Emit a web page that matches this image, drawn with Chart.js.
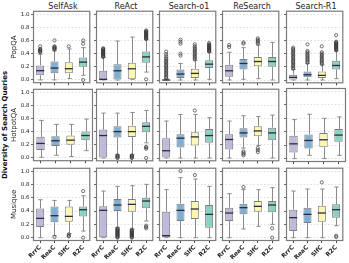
<!DOCTYPE html>
<html>
<head>
<meta charset="utf-8">
<script src="https://cdn.jsdelivr.net/npm/chart.js@4.4.0/dist/chart.umd.min.js"></script>
<style>
  html, body { margin: 0; padding: 0; background: #fff; }
  #fig { position: relative; width: 349px; height: 263px; overflow: hidden; font-family: "DejaVu Sans", sans-serif; }
  .panel { position: absolute; }
  .coltitle { position: absolute; top: 2px; height: 10px; line-height: 10px; font-size: 8px; text-align: center; color: #222; white-space: nowrap; }
  #ylabel { position: absolute; left: 5px; top: 125px; transform: translate(-50%, -50%) rotate(-90deg); font-size: 7px; font-weight: bold; color: #111; white-space: nowrap; }
</style>
</head>
<body>
<div id="fig">
  <div id="ylabel">Diversity of Search Queries</div>
</div>
<script>
"use strict";

// panels: rows = benchmarks, columns = methods, boxes = categories
var methods = ['SelfAsk', 'ReAct', 'Search-o1', 'ReSearch', 'Search-R1'];
var benchmarks = ['PopQA', 'HotpotQA', 'Musique'];
var categories = ['RrrC', 'ReaC', 'SlfC', 'R2C'];
var yTicks = [0, 0.2, 0.4, 0.6, 0.8, 1.0];

// box stats [benchmark][method][category]
var whiskerLow = [
    [[0.0, 0.0, 0.02, 0.07], [0.0, 0.0, 0.01, 0.12], [0.0, 0.0, 0.0, 0.01], [0.0, 0.01, 0.02, 0.0], [0.0, 0.0, 0.0, 0.02]],
    [[0.01, 0.04, 0.02, 0.11], [0.0, 0.05, 0.05, 0.23], [0.0, 0.0, 0.0, 0.0], [0.0, 0.15, 0.19, 0.0], [0.0, 0.05, 0.0, 0.05]],
    [[0.0, 0.03, 0.06, 0.10], [0.0, 0.15, 0.13, 0.25], [0.0, 0.0, 0.0, 0.0], [0.0, 0.13, 0.17, 0.20], [0.0, 0.0, 0.0, 0.18]]
];
var q1 = [
    [[0.07, 0.10, 0.10, 0.20], [0.0, 0.0, 0.01, 0.26], [0.0, 0.03, 0.03, 0.18], [0.05, 0.16, 0.21, 0.20], [0.0, 0.04, 0.03, 0.16]],
    [[0.12, 0.18, 0.20, 0.27], [0.0, 0.31, 0.32, 0.39], [0.0, 0.16, 0.19, 0.23], [0.13, 0.31, 0.33, 0.27], [0.09, 0.15, 0.17, 0.25]],
    [[0.16, 0.23, 0.24, 0.32], [0.0, 0.40, 0.39, 0.44], [0.0, 0.25, 0.28, 0.15], [0.25, 0.35, 0.39, 0.38], [0.10, 0.22, 0.24, 0.30]]
];
var median = [
    [[0.14, 0.18, 0.17, 0.27], [0.01, 0.14, 0.17, 0.35], [0.0, 0.09, 0.10, 0.24], [0.14, 0.25, 0.28, 0.28], [0.04, 0.08, 0.07, 0.22]],
    [[0.22, 0.26, 0.27, 0.34], [0.34, 0.40, 0.40, 0.48], [0.11, 0.30, 0.32, 0.34], [0.28, 0.38, 0.41, 0.38], [0.22, 0.27, 0.28, 0.35]],
    [[0.29, 0.33, 0.32, 0.42], [0.41, 0.49, 0.50, 0.55], [0.03, 0.41, 0.43, 0.35], [0.37, 0.45, 0.47, 0.49], [0.30, 0.35, 0.37, 0.42]]
];
var q3 = [
    [[0.22, 0.28, 0.27, 0.34], [0.14, 0.24, 0.26, 0.43], [0.01, 0.16, 0.17, 0.30], [0.23, 0.32, 0.35, 0.35], [0.08, 0.13, 0.13, 0.29]],
    [[0.32, 0.33, 0.34, 0.40], [0.43, 0.48, 0.49, 0.54], [0.30, 0.36, 0.39, 0.44], [0.36, 0.45, 0.48, 0.46], [0.34, 0.36, 0.38, 0.44]],
    [[0.44, 0.47, 0.47, 0.47], [0.47, 0.58, 0.58, 0.60], [0.39, 0.51, 0.55, 0.49], [0.45, 0.51, 0.55, 0.55], [0.42, 0.45, 0.48, 0.50]]
];
var whiskerHigh = [
    [[0.39, 0.44, 0.47, 0.49], [0.34, 0.59, 0.65, 0.61], [0.02, 0.25, 0.30, 0.42], [0.42, 0.49, 0.53, 0.57], [0.16, 0.25, 0.23, 0.44]],
    [[0.57, 0.51, 0.51, 0.59], [0.68, 0.68, 0.69, 0.72], [0.56, 0.66, 0.66, 0.61], [0.56, 0.64, 0.63, 0.65], [0.58, 0.66, 0.60, 0.62]],
    [[0.57, 0.56, 0.56, 0.63], [0.70, 0.77, 0.78, 0.80], [0.72, 0.90, 0.88, 0.77], [0.66, 0.72, 0.72, 0.75], [0.70, 0.73, 0.73, 0.76]]
];
var outliers = [
    [
        [[0.42, 0.43, 0.44, 0.45, 0.46, 0.47, 0.51], [0.46, 0.47, 0.48, 0.49, 0.50, 0.51, 0.60], [0.51], [0.0, 0.55, 0.60]],
        [[0.35, 0.36, 0.37, 0.38, 0.39, 0.40, 0.41, 0.42, 0.43, 0.44, 0.45, 0.46, 0.47, 0.48], [], [],
         [0.01, 0.62, 0.63, 0.64, 0.65, 0.66, 0.67, 0.68, 0.69, 0.70, 0.71, 0.72, 0.73, 0.74, 0.75]],
        [[0.03, 0.05, 0.07, 0.09, 0.11, 0.13, 0.15, 0.17, 0.19, 0.21, 0.23, 0.25, 0.27, 0.29, 0.31, 0.33, 0.36, 0.39, 0.43],
         [0.37, 0.40, 0.55, 0.58, 0.61],
         [0.31, 0.33, 0.35, 0.37, 0.39, 0.41, 0.43, 0.45, 0.47, 0.49, 0.51, 0.54],
         [0.43, 0.44, 0.45, 0.46, 0.47, 0.48, 0.49, 0.50, 0.51, 0.52, 0.53, 0.54, 0.56]],
        [[0.50, 0.53], [0.55, 0.57], [0.55, 0.57, 0.59, 0.61, 0.63], []],
        [[0.17, 0.19, 0.21, 0.23, 0.25, 0.27, 0.29, 0.31, 0.33, 0.35, 0.37, 0.39, 0.41, 0.43, 0.45, 0.47, 0.49],
         [0.26, 0.28, 0.30, 0.32, 0.34, 0.36, 0.38, 0.40, 0.42, 0.44, 0.54],
         [0.24, 0.26, 0.28, 0.30, 0.32, 0.34, 0.36, 0.38, 0.40, 0.42, 0.51],
         [0.45, 0.46, 0.47, 0.48, 0.49, 0.50, 0.51, 0.52, 0.53, 0.54, 0.55, 0.56, 0.57, 0.58, 0.68]]
    ],
    [
        [[], [], [], []],
        [[], [0.0, 0.01, 0.02, 0.03, 0.04], [0.0, 0.01, 0.02, 0.03, 0.04], [0.0, 0.14, 0.16, 0.17]],
        [[], [], [0.72], []],
        [[], [0.04, 0.06, 0.08, 0.10], [0.09, 0.12, 0.15], []],
        [[], [], [], []]
    ],
    [
        [[], [0.01], [0.02, 0.03, 0.05], [0.0, 0.70]],
        [[], [0.0, 0.01, 0.02, 0.03, 0.04, 0.05, 0.06, 0.07, 0.08, 0.09, 0.10, 0.11, 0.12, 0.13, 0.14],
         [0.0, 0.01, 0.02, 0.03, 0.04, 0.05, 0.06, 0.07, 0.08, 0.09, 0.10, 0.11, 0.12], [0.14, 0.16, 0.18]],
        [[], [1.0], [0.94], []],
        [[], [0.76], [], [0.0, 0.14]],
        [[], [], [0.83], [0.01, 0.03]]
    ]
];

var boxColors = ['#bfbadb', '#7fb0d4', '#fbf8b4', '#8ad2c2'];

// layout of the grid (pixels)
var colLeft = [33, 96, 159, 222, 286];
var rowTop = [10, 88, 167];
var panelW = 60, panelH = 74;

Chart.defaults.font.family = "'DejaVu Sans', sans-serif";

var fig = document.getElementById('fig');

methods.forEach(function(name, c) {
    var t = document.createElement('div');
    t.className = 'coltitle';
    t.style.left = colLeft[c] + 'px';
    t.style.width = panelW + 'px';
    t.textContent = name;
    fig.appendChild(t);
});

// whiskers, medians and the panel frame
function boxParts(r, c) {
    return {
        id: 'boxParts',
        beforeDatasetsDraw: function(chart) {
            var ctx = chart.ctx, y = chart.scales.y;
            var meta = chart.getDatasetMeta(1);
            ctx.save();
            ctx.strokeStyle = '#8a8a8a';
            ctx.lineWidth = 1;
            meta.data.forEach(function(bar, i) {
                var x = Math.round(bar.x) + 0.5, cap = bar.width * 0.27;
                var yl = y.getPixelForValue(whiskerLow[r][c][i]);
                var yh = y.getPixelForValue(whiskerHigh[r][c][i]);
                var y1 = y.getPixelForValue(q1[r][c][i]);
                var y3 = y.getPixelForValue(q3[r][c][i]);
                ctx.beginPath();
                ctx.moveTo(x, y1); ctx.lineTo(x, yl);
                ctx.moveTo(x, y3); ctx.lineTo(x, yh);
                ctx.moveTo(x - cap, yl); ctx.lineTo(x + cap, yl);
                ctx.moveTo(x - cap, yh); ctx.lineTo(x + cap, yh);
                ctx.stroke();
            });
            ctx.restore();
        },
        afterDatasetsDraw: function(chart) {
            var ctx = chart.ctx, y = chart.scales.y;
            var meta = chart.getDatasetMeta(1);
            ctx.save();
            ctx.strokeStyle = '#2b2b3a';
            ctx.lineWidth = 1.3;
            meta.data.forEach(function(bar, i) {
                var ym = y.getPixelForValue(median[r][c][i]);
                ctx.beginPath();
                ctx.moveTo(bar.x - bar.width / 2, ym);
                ctx.lineTo(bar.x + bar.width / 2, ym);
                ctx.stroke();
            });
            ctx.restore();
        },
        afterDraw: function(chart) {
            var a = chart.chartArea, ctx = chart.ctx;
            ctx.save();
            ctx.strokeStyle = '#7a7a7a';
            ctx.lineWidth = 1.2;
            ctx.strokeRect(a.left + 0.5, a.top + 0.5, a.right - a.left - 1, a.bottom - a.top - 1);
            ctx.restore();
        }
    };
}

benchmarks.forEach(function(bench, r) {
    methods.forEach(function(method, c) {
        var padL = c === 0 ? 3 : 6, padT = 4, padR = 2;
        var yW = c === 0 ? 23 : 2;
        var xH = r === 2 ? 26 : 4;
        var w = padL + yW + panelW + padR;
        var h = padT + panelH + xH;

        var wrap = document.createElement('div');
        wrap.className = 'panel';
        wrap.style.left = (colLeft[c] - yW - padL) + 'px';
        wrap.style.top = (rowTop[r] - padT) + 'px';
        var canvas = document.createElement('canvas');
        canvas.width = w;
        canvas.height = h;
        wrap.appendChild(canvas);
        fig.appendChild(wrap);

        var points = [];
        outliers[r][c].forEach(function(vals, i) {
            vals.forEach(function(v) {
                points.push({ x: categories[i], y: v });
            });
        });

        new Chart(canvas.getContext('2d'), {
            type: 'bar',
            data: {
                labels: categories,
                datasets: [{
                    type: 'scatter',
                    label: 'outliers',
                    data: points,
                    pointRadius: 1.6,
                    pointBorderWidth: 0.7,
                    pointBorderColor: '#3a3a3a',
                    pointBackgroundColor: 'rgba(0,0,0,0)'
                }, {
                    label: 'box',
                    data: q1[r][c].map(function(v, i) { return [v, q3[r][c][i]]; }),
                    backgroundColor: boxColors,
                    borderColor: '#7d7d7d',
                    borderWidth: 1,
                    borderSkipped: false,
                    barPercentage: 0.56,
                    categoryPercentage: 1.0
                }]
            },
            options: {
                responsive: false,
                animation: false,
                events: [],
                layout: { padding: { left: padL, top: padT, right: padR, bottom: 0 } },
                plugins: {
                    legend: { display: false },
                    tooltip: { enabled: false }
                },
                scales: {
                    x: {
                        type: 'category',
                        offset: true,
                        grid: { display: true, offset: false, drawOnChartArea: false, drawTicks: true, tickLength: 2, tickColor: '#444' },
                        border: { display: false },
                        ticks: {
                            display: r === 2,
                            autoSkip: false,
                            minRotation: 45,
                            maxRotation: 45,
                            padding: 1,
                            color: '#222',
                            font: { size: 6, weight: 'bold' }
                        },
                        afterFit: function(s) { s.height = xH; }
                    },
                    y: {
                        min: -0.05,
                        max: 1.05,
                        bounds: 'data',
                        afterBuildTicks: function(s) {
                            s.ticks = yTicks.map(function(v) { return { value: v }; });
                        },
                        grid: { color: '#d6d6d6', lineWidth: 0.8, tickColor: '#444', tickLength: 2 },
                        border: { display: false, dash: [1.5, 2] },
                        ticks: {
                            display: c === 0,
                            padding: 1.5,
                            color: '#222',
                            font: { size: 5.5 },
                            callback: function(v) { return Number(v).toFixed(1); }
                        },
                        title: {
                            display: c === 0,
                            text: bench,
                            padding: 0,
                            color: '#222',
                            font: { size: 7 }
                        },
                        afterFit: function(s) { s.width = yW; }
                    }
                }
            },
            plugins: [boxParts(r, c)]
        });
    });
});
</script>
</body>
</html>
